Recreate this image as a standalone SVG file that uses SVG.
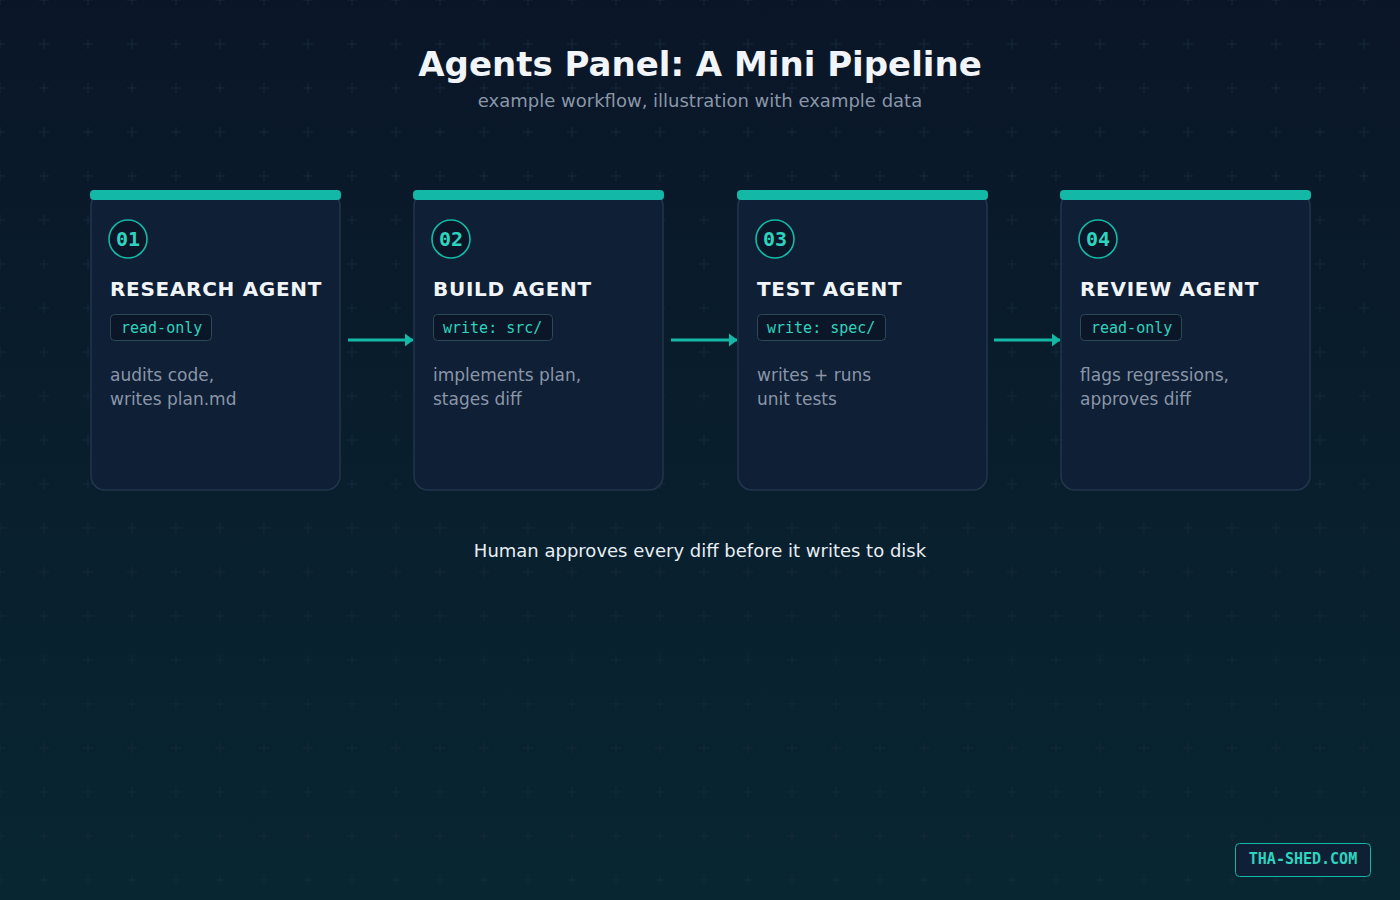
<svg xmlns="http://www.w3.org/2000/svg" width="1400" height="900" viewBox="0 0 1400 900">
  <defs>
    <linearGradient id="bg" x1="0" y1="0" x2="0" y2="1">
      <stop offset="0" stop-color="#0a1628"/>
      <stop offset="1" stop-color="#082632"/>
    </linearGradient>
    <pattern id="grid" x="22" y="22" width="44" height="44" patternUnits="userSpaceOnUse">
      <path d="M17 22H27M22 17V27" stroke="#14273a" stroke-width="1"/>
    </pattern>
    <marker id="arr" viewBox="0 0 9 16" refX="8.5" refY="8" markerWidth="9" markerHeight="16" markerUnits="userSpaceOnUse" orient="auto">
      <path d="M0 1L9 8L0 15Z" fill="#14b8a6"/>
    </marker>
    <style>
      .card{fill:#0f1f35;stroke:#22364b;stroke-width:1.5}
      .bar{fill:#14b8a6}
      .num-c{fill:#0b1628;stroke:#14b8a6;stroke-width:1.6}
      .num{font-family:"DejaVu Sans Mono","Liberation Mono",monospace;font-size:20px;font-weight:bold;fill:#2dd4bf;text-anchor:middle}
      .ttl{font-family:"DejaVu Sans","Noto Sans",sans-serif;font-weight:bold;font-size:20px;letter-spacing:0.7px;fill:#f1f5f9}
      .tag{fill:#0b1628;stroke:#2c4a55;stroke-width:1}
      .tagt{font-family:"DejaVu Sans Mono","Liberation Mono",monospace;font-size:15px;fill:#2dd4bf}
      .desc{font-family:"DejaVu Sans","Noto Sans",sans-serif;font-size:17px;fill:#8a96a8}
      .conn{stroke:#14b8a6;stroke-width:3;fill:none}
    </style>
  </defs>
  <rect width="1400" height="900" fill="url(#bg)"/>
  <rect width="1400" height="900" fill="url(#grid)"/>

  <text x="700" y="76" text-anchor="middle" font-family="DejaVu Sans, sans-serif" font-weight="bold" font-size="34" fill="#f1f5f9">Agents Panel: A Mini Pipeline</text>
  <text x="700" y="107" text-anchor="middle" font-family="DejaVu Sans, sans-serif" font-size="18" fill="#8a96a8">example workflow, illustration with example data</text>

  <g id="connectors">
    <line class="conn" x1="348" y1="340" x2="413" y2="340" marker-end="url(#arr)"/>
    <line class="conn" x1="671" y1="340" x2="737" y2="340" marker-end="url(#arr)"/>
    <line class="conn" x1="994" y1="340" x2="1060" y2="340" marker-end="url(#arr)"/>
  </g>

  <g id="node-research">
    <rect class="card" x="91" y="192" width="249" height="298" rx="14"/>
    <rect class="bar" x="90" y="190" width="251" height="10" rx="4"/>
    <circle class="num-c" cx="128" cy="239" r="19"/>
    <text class="num" x="128" y="246">01</text>
    <text class="ttl" x="110" y="296">RESEARCH AGENT</text>
    <rect class="tag" x="110.5" y="314.5" width="101" height="26" rx="4"/>
    <text class="tagt" x="121" y="333">read-only</text>
    <text class="desc" x="110" y="381">audits code,</text>
    <text class="desc" x="110" y="405">writes plan.md</text>
  </g>

  <g id="node-build">
    <rect class="card" x="414" y="192" width="249" height="298" rx="14"/>
    <rect class="bar" x="413" y="190" width="251" height="10" rx="4"/>
    <circle class="num-c" cx="451" cy="239" r="19"/>
    <text class="num" x="451" y="246">02</text>
    <text class="ttl" x="433" y="296">BUILD AGENT</text>
    <rect class="tag" x="433.5" y="314.5" width="119" height="26" rx="4"/>
    <text class="tagt" x="443" y="333">write: src/</text>
    <text class="desc" x="433" y="381">implements plan,</text>
    <text class="desc" x="433" y="405">stages diff</text>
  </g>

  <g id="node-test">
    <rect class="card" x="738" y="192" width="249" height="298" rx="14"/>
    <rect class="bar" x="737" y="190" width="251" height="10" rx="4"/>
    <circle class="num-c" cx="775" cy="239" r="19"/>
    <text class="num" x="775" y="246">03</text>
    <text class="ttl" x="757" y="296">TEST AGENT</text>
    <rect class="tag" x="757.5" y="314.5" width="128" height="26" rx="4"/>
    <text class="tagt" x="767" y="333">write: spec/</text>
    <text class="desc" x="757" y="381">writes + runs</text>
    <text class="desc" x="757" y="405">unit tests</text>
  </g>

  <g id="node-review">
    <rect class="card" x="1061" y="192" width="249" height="298" rx="14"/>
    <rect class="bar" x="1060" y="190" width="251" height="10" rx="4"/>
    <circle class="num-c" cx="1098" cy="239" r="19"/>
    <text class="num" x="1098" y="246">04</text>
    <text class="ttl" x="1080" y="296">REVIEW AGENT</text>
    <rect class="tag" x="1080.5" y="314.5" width="101" height="26" rx="4"/>
    <text class="tagt" x="1091" y="333">read-only</text>
    <text class="desc" x="1080" y="381">flags regressions,</text>
    <text class="desc" x="1080" y="405">approves diff</text>
  </g>

  <text x="700" y="557" text-anchor="middle" font-family="DejaVu Sans, sans-serif" font-size="18" fill="#e8eef4">Human approves every diff before it writes to disk</text>

  <g id="badge">
    <rect x="1235.5" y="843.5" width="135" height="33" rx="4" fill="#0f1f35" stroke="#14b8a6" stroke-width="1"/>
    <text x="1303" y="864" text-anchor="middle" font-family="DejaVu Sans Mono, monospace" font-weight="bold" font-size="15" fill="#2dd4bf">THA-SHED.COM</text>
  </g>
</svg>
